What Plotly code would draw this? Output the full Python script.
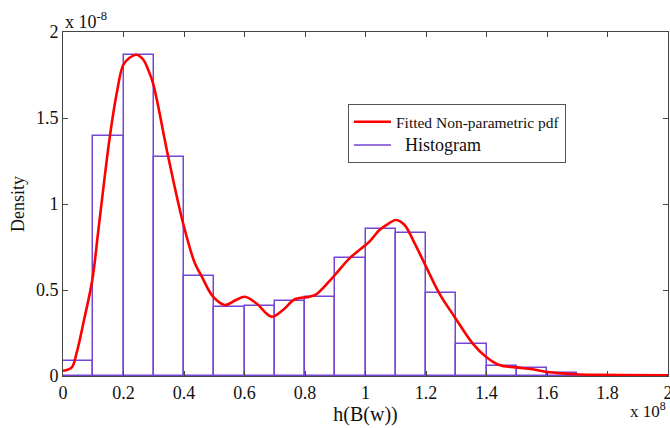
import plotly.graph_objects as go

# Histogram (x in units of 1e8, density in units of 1e-8)
bin_centers = [0.05, 0.15, 0.25, 0.35, 0.45, 0.55, 0.65, 0.75, 0.85, 0.95,
               1.05, 1.15, 1.25, 1.35, 1.45, 1.55, 1.65, 1.75, 1.85, 1.95]
bin_heights = [0.085, 1.395, 1.865, 1.273, 0.583, 0.400, 0.409, 0.434, 0.457, 0.684,
               0.853, 0.833, 0.481, 0.188, 0.056, 0.048, 0.017, 0.0, 0.0, 0.0]

# Fitted non-parametric pdf
pdf_x = [0, 0.029, 0.045, 0.07, 0.097, 0.117, 0.155, 0.179, 0.199, 0.22, 0.243, 0.265,
         0.282, 0.298, 0.348, 0.397, 0.436, 0.458, 0.496, 0.535, 0.57, 0.601, 0.639,
         0.689, 0.727, 0.766, 0.815, 0.837, 0.892, 0.947, 0.98, 1.013, 1.046, 1.075,
         1.101, 1.129, 1.16, 1.195, 1.244, 1.294, 1.354, 1.398, 1.442, 1.497, 1.552,
         1.596, 1.651, 1.695, 1.75, 1.85, 2.0]
pdf_y = [0.03, 0.05, 0.134, 0.33, 0.56, 0.849, 1.395, 1.657, 1.808, 1.85, 1.868, 1.84,
         1.779, 1.70, 1.273, 0.888, 0.655, 0.581, 0.461, 0.413, 0.44, 0.461, 0.423,
         0.345, 0.384, 0.446, 0.461, 0.475, 0.574, 0.684, 0.733, 0.781, 0.849, 0.885,
         0.907, 0.878, 0.78, 0.655, 0.481, 0.345, 0.190, 0.112, 0.064, 0.050, 0.039,
         0.025, 0.015, 0.01, 0.007, 0.005, 0.004]

x_ticks = [0, 0.2, 0.4, 0.6, 0.8, 1.0, 1.2, 1.4, 1.6, 1.8, 2.0]
x_tick_text = ["0", "0.2", "0.4", "0.6", "0.8", "1", "1.2", "1.4", "1.6", "1.8", "2"]
y_ticks = [0, 0.5, 1.0, 1.5, 2.0]
y_tick_text = ["0", "0.5", "1", "1.5", "2"]

FONT = "Liberation Serif"
PURPLE = "#7446d6"
AXC = "#444444"

fig = go.Figure()
fig.add_trace(go.Bar(
    x=bin_centers, y=bin_heights, width=0.1,
    marker=dict(color="rgba(255,255,255,0)", line=dict(color=PURPLE, width=1.5)),
    name="Histogram", showlegend=False,
))
fig.add_trace(go.Scatter(
    x=pdf_x, y=pdf_y, mode="lines", line=dict(color="#ff0000", width=2.6, shape="spline"),
    name="Fitted Non-parametric pdf",
))
# legend entry for histogram as a line
fig.add_trace(go.Scatter(
    x=[None], y=[None], mode="lines", line=dict(color=PURPLE, width=1.5),
    name="<span style='font-size:18px'>  Histogram</span>",
))

fig.update_layout(
    width=670, height=428,
    margin=dict(l=63, r=2, t=32, b=52),
    paper_bgcolor="white", plot_bgcolor="white",
    font=dict(family=FONT, size=18, color="#111111"),
    bargap=0,
    legend=dict(x=0.471, y=0.79, xanchor="left", yanchor="top",
                bordercolor="#555555", borderwidth=1, bgcolor="white",
                font=dict(family=FONT, size=15.5, color="#111111"),
                itemwidth=37, tracegroupgap=0),
    xaxis=dict(range=[0, 2], tickvals=x_ticks, ticktext=x_tick_text,
               showline=True, linecolor=AXC, linewidth=1, mirror="ticks",
               ticks="inside", ticklen=5, tickcolor=AXC, showgrid=False, zeroline=False,
               ticklabeloverflow="allow", automargin=False,
               title=dict(text="h(B(w))", standoff=0, font=dict(size=20))),
    yaxis=dict(range=[0, 2], tickvals=y_ticks, ticktext=y_tick_text,
               showline=True, linecolor=AXC, linewidth=1, mirror="ticks",
               ticks="inside", ticklen=5, tickcolor=AXC, showgrid=False, zeroline=False,
               automargin=False,
               title=dict(text="Density", standoff=6, font=dict(size=18))),
    annotations=[
        dict(text="x 10<sup>-8</sup>", xref="paper", yref="paper", x=0, y=1,
             xanchor="left", yanchor="bottom", showarrow=False, yshift=-2,
             font=dict(family=FONT, size=18)),
        dict(text="x 10<sup>8</sup>", xref="paper", yref="paper", x=1, y=0,
             xanchor="right", yanchor="top", showarrow=False, yshift=-21,
             font=dict(family=FONT, size=17)),
    ],
)

fig.write_html("out.html", config={"displayModeBar": False},
               post_script="document.body.style.margin='0';")
